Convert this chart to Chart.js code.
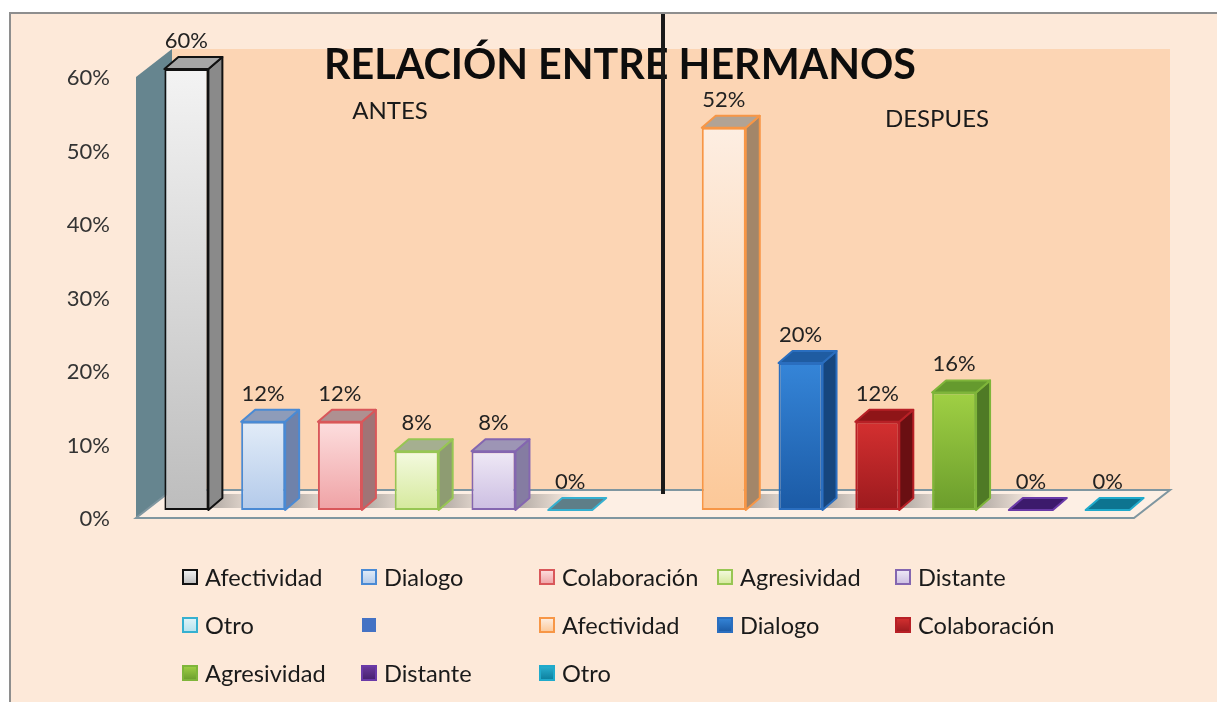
<!DOCTYPE html>
<html><head><meta charset="utf-8">
<script src="https://cdn.jsdelivr.net/npm/chart.js@4.4.1/dist/chart.umd.min.js"></script>
<style>html,body{margin:0;padding:0;background:#fff}#wrap{width:1217px;height:702px}</style>
</head><body><div id="wrap"><canvas id="c" width="1217" height="702"></canvas></div>
<script>
// ---- data ----
const categories = [''];
const seriesNames = ['Afectividad','Dialogo','Colaboración','Agresividad','Distante','Otro','','Afectividad','Dialogo','Colaboración','Agresividad','Distante','Otro'];
const seriesValues = [60,12,12,8,8,0,null,52,20,12,16,0,0];
const yTicks = [0,10,20,30,40,50,60];
const titleText = 'RELACIÓN ENTRE HERMANOS';
const groupLabels = ['ANTES','DESPUES'];

// ---- styles ----
const frontTop = ['#f3f3f3','#e2ecf8','#fddede','#f4fae0','#efe9f6','#e0f4f9','#4472c4','#fdeee2','#3585d8','#d43030','#a0d044','#6a3a9e','#2ab0d0'];
const frontBot = ['#bdbdbd','#b3caea','#efa2a5','#d5e99c','#ccbee2','#b5e2ee','#4472c4','#fcc898','#1b5aa5','#9c1a1e','#6b9d2c','#46206e','#0c7e9c'];
const borders  = ['#111111','#4a8ad4','#d9575a','#97c653','#8466b0','#35b0d0','#4472c4','#f79646','#2a6ebf','#b82026','#7fb53a','#6a3aa8','#20aacb'];
const sideCol  = ['#8a8a8a','#6f82aa','#a07476','#8e9c72','#857ca2','#5f7f88','#4472c4','#a38669','#16467e','#6a0f12','#4f7a25','#2f1450','#086078'];
const topCol   = ['#a6a6a6','#8e9cb9','#ae9091','#a5af90','#9d95b5','#5e7e88','#4472c4','#b1a395','#1f5ca2','#8f1518','#659a2e','#3c1a6c','#0d7490'];

function frontFill(i){
  return function(ctx){
    const chart = ctx.chart;
    const a = chart.chartArea;
    if(!a) return frontTop[i];
    const y = chart.scales.y;
    const v = seriesValues[i] || 0;
    const t = y.getPixelForValue(v), b = y.getPixelForValue(0);
    if (b - t < 1) return frontTop[i];
    const g = chart.ctx.createLinearGradient(0, t, 0, b);
    g.addColorStop(0, frontTop[i]);
    g.addColorStop(1, frontBot[i]);
    return g;
  };
}

const datasets = seriesNames.map((name,i)=>({
  label: name,
  data: [seriesValues[i]],
  backgroundColor: frontFill(i),
  borderColor: borders[i],
  borderWidth: 2,
  borderSkipped: false
}));

const DX=36, DY=-28, BDX=14, BDY=-12;

function poly(ctx, pts){
  ctx.beginPath(); ctx.moveTo(pts[0][0],pts[0][1]);
  for(let k=1;k<pts.length;k++) ctx.lineTo(pts[k][0],pts[k][1]);
  ctx.closePath();
}

const deco = {
  id:'deco',
  beforeDraw(chart){
    const {ctx, chartArea:a} = chart;
    ctx.save();
    ctx.fillStyle='#ffffff'; ctx.fillRect(0,0,chart.width,chart.height);
    ctx.fillStyle='#fde9d9'; ctx.fillRect(10,13,chart.width,chart.height);
    ctx.strokeStyle='#8e8e8e'; ctx.lineWidth=2;
    ctx.beginPath(); ctx.moveTo(10,chart.height); ctx.lineTo(10,13); ctx.lineTo(chart.width,13); ctx.stroke();
    const fx0=a.left-12, fx1=a.right-12, fy=a.bottom+8, top=a.top-20;
    // back wall
    ctx.fillStyle='#fcd5b4';
    ctx.fillRect(fx0+DX, top, fx1-fx0, fy+DY-top);
    // left wall
    ctx.fillStyle='#66858f';
    poly(ctx, [[fx0, top-DY],[fx0+DX, top],[fx0+DX, fy+DY],[fx0, fy]]);
    ctx.fill();
    // floor
    ctx.fillStyle='#fdefe4';
    poly(ctx, [[fx0,fy],[fx1,fy],[fx1+DX,fy+DY],[fx0+DX,fy+DY]]);
    ctx.fill();
    ctx.strokeStyle='#7f96a0'; ctx.lineWidth=2; ctx.stroke();
    // floor shadows
    chart.data.datasets.forEach((ds,i)=>{
      const v = seriesValues[i];
      if (v === null || v === 0) return;
      const el = chart.getDatasetMeta(i).data[0];
      const x2 = el.x + el.width/2, yb = el.base;
      const g = ctx.createLinearGradient(x2, 0, x2+60, 0);
      g.addColorStop(0,'rgba(80,80,80,0.45)');
      g.addColorStop(1,'rgba(80,80,80,0)');
      ctx.fillStyle=g;
      poly(ctx, [[x2, yb-2],[x2+60, yb-2],[x2+60+BDX, yb+BDY-4],[x2+BDX, yb+BDY-4]]);
      ctx.fill();
    });
    ctx.restore();
  },
  afterDatasetsDraw(chart){
    const {ctx} = chart;
    ctx.save();
    chart.data.datasets.forEach((ds,i)=>{
      const v = seriesValues[i];
      if (v === null) return;
      const el = chart.getDatasetMeta(i).data[0];
      const x1 = el.x - el.width/2, x2 = el.x + el.width/2, yt = el.y, yb = el.base;
      ctx.lineJoin='round';
      if (yb - yt > 1) {
        ctx.fillStyle = sideCol[i];
        poly(ctx, [[x2,yt],[x2+BDX,yt+BDY],[x2+BDX,yb+BDY],[x2,yb]]);
        ctx.fill(); ctx.strokeStyle=borders[i]; ctx.lineWidth=2; ctx.stroke();
      }
      ctx.fillStyle = topCol[i];
      poly(ctx, [[x1,yt],[x2,yt],[x2+BDX,yt+BDY],[x1+BDX,yt+BDY]]);
      ctx.fill(); ctx.strokeStyle=borders[i]; ctx.lineWidth=2; ctx.stroke();
      // data label
      ctx.fillStyle='#222222';
      ctx.font='22px Lato';
      ctx.textAlign='center'; ctx.textBaseline='middle';
      ctx.fillText(v+'%', el.x, yt-28);
    });
    ctx.restore();
  },
  afterDraw(chart){
    const {ctx} = chart;
    ctx.save();
    // title
    ctx.fillStyle='#0d0d0d';
    ctx.font='bold 42px Lato';
    ctx.textAlign='center'; ctx.textBaseline='alphabetic';
    ctx.fillText(titleText, 620, 79, 592);
    ctx.font='24px Lato';
    ctx.fillStyle='#1a1a1a';
    ctx.textBaseline='middle';
    ctx.fillText(groupLabels[0], 390, 111);
    ctx.fillText(groupLabels[1], 937, 119);
    // separator line
    ctx.fillStyle='#1a1a1a';
    ctx.fillRect(661, 14, 4, 480);
    // legend
    const cols=[182,361,539,717,895], rows=[577,625,673];
    seriesNames.forEach((name,i)=>{
      const cx=cols[i%5], cy=rows[Math.floor(i/5)];
      if (name === '') {
        ctx.fillStyle=borders[i];
        ctx.fillRect(cx+1, cy-7, 14, 14);
      } else {
        const g = ctx.createLinearGradient(0, cy-7, 0, cy+7);
        g.addColorStop(0, frontTop[i]); g.addColorStop(1, frontBot[i]);
        ctx.fillStyle=g;
        ctx.fillRect(cx+1, cy-7, 14, 14);
        ctx.strokeStyle=borders[i]; ctx.lineWidth=2;
        ctx.strokeRect(cx+1, cy-7, 14, 14);
      }
      ctx.fillStyle='#1a1a1a';
      ctx.font='23.6px Lato';
      ctx.textAlign='left'; ctx.textBaseline='middle';
      ctx.fillText(name, cx+23, cy+1);
    });
    ctx.restore();
  }
};

new Chart(document.getElementById('c'), {
  type:'bar',
  data:{ labels: categories, datasets },
  options:{
    responsive:false,
    animation:false,
    devicePixelRatio:1,
    layout:{ padding:{ top:69, right:71, bottom:192, left:0 } },
    datasets:{ bar:{ categoryPercentage:1, barPercentage:0.573 } },
    plugins:{ legend:{display:false}, tooltip:{enabled:false}, title:{display:false} },
    scales:{
      x:{ display:false },
      y:{
        min:0, max:60,
        afterBuildTicks(s){ s.ticks = yTicks.map(v=>({value:v})); },
        afterFit(s){ s.width = 148; },
        ticks:{ padding:38, labelOffset:9, color:'#333333', font:{family:'Lato', size:22}, callback:v=>v+'%' },
        grid:{ display:false, drawTicks:false },
        border:{ display:false }
      }
    }
  },
  plugins:[deco]
});
</script>
</body></html>
